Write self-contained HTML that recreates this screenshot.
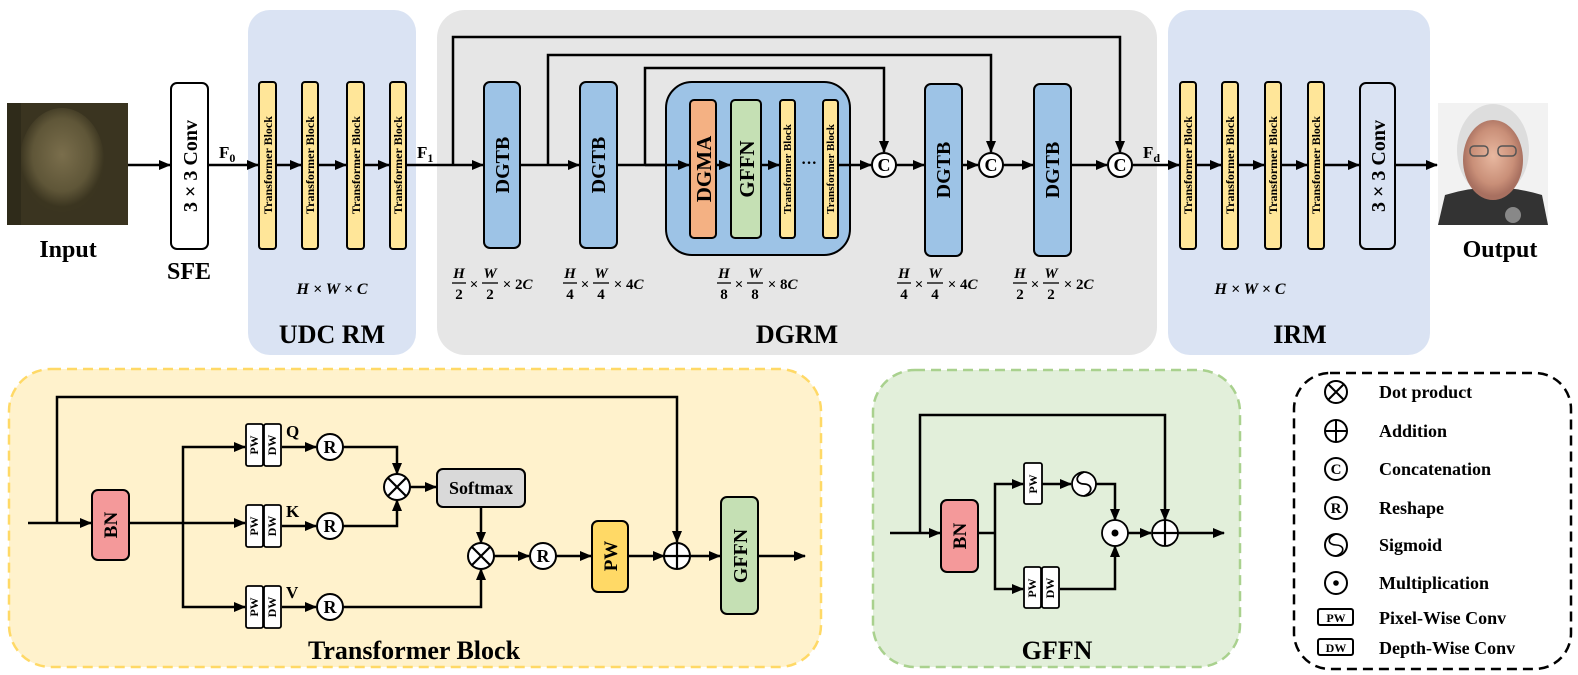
<!DOCTYPE html>
<html><head><meta charset="utf-8"><style>
html,body{margin:0;padding:0;background:#fff;}
svg{display:block;}
text{font-family:"Liberation Serif",serif;font-weight:bold;fill:#000;}
</style></head><body>
<svg width="1578" height="675" viewBox="0 0 1578 675" xmlns="http://www.w3.org/2000/svg">
<defs>
<marker id="a" markerUnits="userSpaceOnUse" markerWidth="12" markerHeight="10" refX="11" refY="5" orient="auto"><path d="M0,0 L12,5 L0,10 z" fill="#000"/></marker>
<radialGradient id="fin" cx="0.5" cy="0.45" r="0.5"><stop offset="0" stop-color="#7a6e4c"/><stop offset="0.7" stop-color="#5f5638"/><stop offset="1" stop-color="#3b3520"/></radialGradient>
<radialGradient id="fout" cx="0.5" cy="0.45" r="0.5"><stop offset="0" stop-color="#e8b8a0"/><stop offset="0.7" stop-color="#c98f78"/><stop offset="1" stop-color="#a87060"/></radialGradient>
</defs>

<rect x="248" y="10" width="168" height="345" rx="22" fill="#dae3f3"/>
<rect x="437" y="10" width="720" height="345" rx="28" fill="#e6e6e6"/>
<rect x="1168" y="10" width="262" height="345" rx="22" fill="#dae3f3"/>

<rect x="7" y="103" width="121" height="122" fill="#3a3420"/>
<ellipse cx="62" cy="160" rx="42" ry="52" fill="url(#fin)"/>
<rect x="7" y="103" width="14" height="122" fill="#2f2b1a"/>
<text x="68" y="257" font-size="24" text-anchor="middle">Input</text>

<rect x="1438" y="103" width="110" height="122" fill="#f2f2f2"/>
<path d="M1438,225 L1445,195 Q1493,180 1542,195 L1548,225 Z" fill="#333"/>
<ellipse cx="1493" cy="150" rx="36" ry="46" fill="#ddd"/>
<ellipse cx="1493" cy="160" rx="30" ry="40" fill="url(#fout)"/>
<rect x="1470" y="146" width="18" height="10" rx="4" fill="none" stroke="#555" stroke-width="1.5"/>
<rect x="1498" y="146" width="18" height="10" rx="4" fill="none" stroke="#555" stroke-width="1.5"/>
<circle cx="1513" cy="215" r="8" fill="#888"/>
<text x="1500" y="257" font-size="24" text-anchor="middle">Output</text>

<g stroke="#000" stroke-width="2.5" fill="none">
<line x1="128" y1="165" x2="170" y2="165" marker-end="url(#a)"/>
<line x1="208" y1="165" x2="258" y2="165" marker-end="url(#a)"/>
<line x1="276" y1="165" x2="301" y2="165" marker-end="url(#a)"/>
<line x1="318" y1="165" x2="346" y2="165" marker-end="url(#a)"/>
<line x1="364" y1="165" x2="389" y2="165" marker-end="url(#a)"/>
<line x1="406" y1="165" x2="483" y2="165" marker-end="url(#a)"/>
<polyline points="453,165 453,37 1120,37 1120,152" marker-end="url(#a)"/>
<line x1="520" y1="165" x2="579" y2="165" marker-end="url(#a)"/>
<polyline points="548,165 548,55 991,55 991,152" marker-end="url(#a)"/>
<line x1="617" y1="165" x2="665" y2="165"/>
<polyline points="645,165 645,68 884,68 884,152" marker-end="url(#a)"/>
</g>

<rect x="171" y="83" width="37" height="166" rx="6" fill="#fff" stroke="#000" stroke-width="2"/>
<text transform="translate(197,166) rotate(-90)" font-size="20" text-anchor="middle">3 × 3 Conv</text>
<text x="189" y="279" font-size="24" text-anchor="middle">SFE</text>
<text x="219" y="158" font-size="17">F<tspan font-size="12" dy="4">0</tspan></text>

<g fill="#ffe699" stroke="#000" stroke-width="2">
<rect x="259" y="82" width="17" height="167" rx="3"/><rect x="302" y="82" width="16" height="167" rx="3"/>
<rect x="347" y="82" width="17" height="167" rx="3"/><rect x="390" y="82" width="16" height="167" rx="3"/>
<rect x="1180" y="82" width="16" height="167" rx="3"/><rect x="1222" y="82" width="16" height="167" rx="3"/>
<rect x="1265" y="82" width="16" height="167" rx="3"/><rect x="1308" y="82" width="16" height="167" rx="3"/>
</g>
<g font-size="12" text-anchor="middle">
<text transform="translate(272,165) rotate(-90)">Transformer Block</text>
<text transform="translate(314,165) rotate(-90)">Transformer Block</text>
<text transform="translate(360,165) rotate(-90)">Transformer Block</text>
<text transform="translate(402,165) rotate(-90)">Transformer Block</text>
<text transform="translate(1192,165) rotate(-90)">Transformer Block</text>
<text transform="translate(1234,165) rotate(-90)">Transformer Block</text>
<text transform="translate(1277,165) rotate(-90)">Transformer Block</text>
<text transform="translate(1320,165) rotate(-90)">Transformer Block</text>
</g>
<text x="332" y="294" font-size="16" font-style="italic" text-anchor="middle">H × W × C</text>
<text x="1250" y="294" font-size="16" font-style="italic" text-anchor="middle">H × W × C</text>
<text x="332" y="343" font-size="26" text-anchor="middle">UDC RM</text>
<text x="1300" y="343" font-size="26" text-anchor="middle">IRM</text>
<text x="797" y="343" font-size="26" text-anchor="middle">DGRM</text>
<text x="417" y="158" font-size="17">F<tspan font-size="12" dy="4">1</tspan></text>
<text x="1143" y="158" font-size="17">F<tspan font-size="12" dy="4">d</tspan></text>

<g fill="#9dc3e6" stroke="#000" stroke-width="2">
<rect x="484" y="82" width="36" height="166" rx="6"/>
<rect x="580" y="82" width="37" height="166" rx="6"/>
<rect x="925" y="84" width="37" height="172" rx="6"/>
<rect x="1034" y="84" width="37" height="172" rx="6"/>
<rect x="666" y="82" width="184" height="173" rx="26"/>
</g>
<g font-size="20" text-anchor="middle">
<text transform="translate(509,165) rotate(-90)">DGTB</text>
<text transform="translate(605,165) rotate(-90)">DGTB</text>
<text transform="translate(950,170) rotate(-90)">DGTB</text>
<text transform="translate(1059,170) rotate(-90)">DGTB</text>
</g>
<rect x="690" y="100" width="26" height="138" rx="4" fill="#f4b183" stroke="#000" stroke-width="2"/>
<rect x="731" y="100" width="30" height="138" rx="4" fill="#c5e0b4" stroke="#000" stroke-width="2"/>
<rect x="780" y="100" width="15" height="138" rx="3" fill="#ffe699" stroke="#000" stroke-width="2"/>
<rect x="823" y="100" width="15" height="138" rx="3" fill="#ffe699" stroke="#000" stroke-width="2"/>
<text transform="translate(711,169) rotate(-90)" font-size="21" text-anchor="middle">DGMA</text>
<text transform="translate(754,169) rotate(-90)" font-size="21" text-anchor="middle">GFFN</text>
<text transform="translate(791,169) rotate(-90)" font-size="11" text-anchor="middle">Transformer Block</text>
<text transform="translate(834,169) rotate(-90)" font-size="11" text-anchor="middle">Transformer Block</text>
<text x="809" y="168" font-size="16" text-anchor="middle">···</text>

<g stroke="#000" stroke-width="2.5" fill="none">
<line x1="645" y1="165" x2="689" y2="165" marker-end="url(#a)"/>
<line x1="716" y1="165" x2="730" y2="165" marker-end="url(#a)"/>
<line x1="761" y1="165" x2="779" y2="165" marker-end="url(#a)"/>
<line x1="838" y1="165" x2="871" y2="165" marker-end="url(#a)"/>
<line x1="896" y1="165" x2="924" y2="165" marker-end="url(#a)"/>
<line x1="962" y1="165" x2="978" y2="165" marker-end="url(#a)"/>
<line x1="1003" y1="165" x2="1033" y2="165" marker-end="url(#a)"/>
<line x1="1071" y1="165" x2="1107" y2="165" marker-end="url(#a)"/>
<line x1="1132" y1="165" x2="1179" y2="165" marker-end="url(#a)"/>
<line x1="1196" y1="165" x2="1221" y2="165" marker-end="url(#a)"/>
<line x1="1238" y1="165" x2="1264" y2="165" marker-end="url(#a)"/>
<line x1="1281" y1="165" x2="1307" y2="165" marker-end="url(#a)"/>
<line x1="1324" y1="165" x2="1359" y2="165" marker-end="url(#a)"/>
<line x1="1395" y1="165" x2="1437" y2="165" marker-end="url(#a)"/>
</g>
<g fill="#fff" stroke="#000" stroke-width="2">
<circle cx="884" cy="165" r="12"/><circle cx="991" cy="165" r="12"/><circle cx="1120" cy="165" r="12"/>
</g>
<g font-size="18" text-anchor="middle">
<text x="884" y="171">C</text><text x="991" y="171">C</text><text x="1120" y="171">C</text>
</g>
<rect x="1360" y="83" width="35" height="166" rx="6" fill="#dae3f3" stroke="#000" stroke-width="2"/>
<text transform="translate(1385,166) rotate(-90)" font-size="20" text-anchor="middle">3 × 3 Conv</text>

<g font-size="15" text-anchor="middle" stroke="none">
<g transform="translate(452,0)">
<text x="7" y="278" font-style="italic">H</text><line x1="0" y1="283" x2="14" y2="283" stroke="#000" stroke-width="1.3"/><text x="7" y="299">2</text>
<text x="22" y="289" font-weight="normal">×</text>
<text x="38" y="278" font-style="italic">W</text><line x1="30" y1="283" x2="46" y2="283" stroke="#000" stroke-width="1.3"/><text x="38" y="299">2</text>
<text x="55" y="289" font-weight="normal">×</text><text x="63" y="289" text-anchor="start">2<tspan font-style="italic">C</tspan></text></g>
<g transform="translate(563,0)">
<text x="7" y="278" font-style="italic">H</text><line x1="0" y1="283" x2="14" y2="283" stroke="#000" stroke-width="1.3"/><text x="7" y="299">4</text>
<text x="22" y="289" font-weight="normal">×</text>
<text x="38" y="278" font-style="italic">W</text><line x1="30" y1="283" x2="46" y2="283" stroke="#000" stroke-width="1.3"/><text x="38" y="299">4</text>
<text x="55" y="289" font-weight="normal">×</text><text x="63" y="289" text-anchor="start">4<tspan font-style="italic">C</tspan></text></g>
<g transform="translate(717,0)">
<text x="7" y="278" font-style="italic">H</text><line x1="0" y1="283" x2="14" y2="283" stroke="#000" stroke-width="1.3"/><text x="7" y="299">8</text>
<text x="22" y="289" font-weight="normal">×</text>
<text x="38" y="278" font-style="italic">W</text><line x1="30" y1="283" x2="46" y2="283" stroke="#000" stroke-width="1.3"/><text x="38" y="299">8</text>
<text x="55" y="289" font-weight="normal">×</text><text x="63" y="289" text-anchor="start">8<tspan font-style="italic">C</tspan></text></g>
<g transform="translate(897,0)">
<text x="7" y="278" font-style="italic">H</text><line x1="0" y1="283" x2="14" y2="283" stroke="#000" stroke-width="1.3"/><text x="7" y="299">4</text>
<text x="22" y="289" font-weight="normal">×</text>
<text x="38" y="278" font-style="italic">W</text><line x1="30" y1="283" x2="46" y2="283" stroke="#000" stroke-width="1.3"/><text x="38" y="299">4</text>
<text x="55" y="289" font-weight="normal">×</text><text x="63" y="289" text-anchor="start">4<tspan font-style="italic">C</tspan></text></g>
<g transform="translate(1013,0)">
<text x="7" y="278" font-style="italic">H</text><line x1="0" y1="283" x2="14" y2="283" stroke="#000" stroke-width="1.3"/><text x="7" y="299">2</text>
<text x="22" y="289" font-weight="normal">×</text>
<text x="38" y="278" font-style="italic">W</text><line x1="30" y1="283" x2="46" y2="283" stroke="#000" stroke-width="1.3"/><text x="38" y="299">2</text>
<text x="55" y="289" font-weight="normal">×</text><text x="63" y="289" text-anchor="start">2<tspan font-style="italic">C</tspan></text></g>
</g>

<rect x="9" y="369" width="812" height="298" rx="42" fill="#fff2cc" stroke="#ffd966" stroke-width="2.5" stroke-dasharray="10,6"/>
<g stroke="#000" stroke-width="2.5" fill="none">
<line x1="28" y1="523" x2="91" y2="523" marker-end="url(#a)"/>
<polyline points="57,523 57,397 677,397 677,542" marker-end="url(#a)"/>
<line x1="129" y1="523" x2="245" y2="523" marker-end="url(#a)"/>
<polyline points="183,523 183,447 245,447" marker-end="url(#a)"/>
<polyline points="183,523 183,607 245,607" marker-end="url(#a)"/>
<line x1="282" y1="447" x2="316" y2="447" marker-end="url(#a)"/>
<line x1="282" y1="526" x2="316" y2="526" marker-end="url(#a)"/>
<line x1="282" y1="607" x2="316" y2="607" marker-end="url(#a)"/>
<polyline points="343,447 397,447 397,474" marker-end="url(#a)"/>
<polyline points="343,526 397,526 397,500" marker-end="url(#a)"/>
<line x1="410" y1="487" x2="436" y2="487" marker-end="url(#a)"/>
<line x1="481" y1="507" x2="481" y2="543" marker-end="url(#a)"/>
<polyline points="343,607 481,607 481,569" marker-end="url(#a)"/>
<line x1="494" y1="556" x2="529" y2="556" marker-end="url(#a)"/>
<line x1="556" y1="556" x2="591" y2="556" marker-end="url(#a)"/>
<line x1="628" y1="556" x2="664" y2="556" marker-end="url(#a)"/>
<line x1="690" y1="556" x2="720" y2="556" marker-end="url(#a)"/>
<line x1="758" y1="556" x2="805" y2="556" marker-end="url(#a)"/>
</g>
<rect x="92" y="490" width="37" height="70" rx="6" fill="#f4999a" stroke="#000" stroke-width="2"/>
<text transform="translate(117,525) rotate(-90)" font-size="19" text-anchor="middle">BN</text>
<g fill="#fff" stroke="#000" stroke-width="1.8">
<rect x="246" y="424" width="17" height="42" rx="2"/><rect x="264" y="424" width="17" height="42" rx="2"/>
<rect x="246" y="505" width="17" height="42" rx="2"/><rect x="264" y="505" width="17" height="42" rx="2"/>
<rect x="246" y="586" width="17" height="42" rx="2"/><rect x="264" y="586" width="17" height="42" rx="2"/>
</g>
<g font-size="12" text-anchor="middle">
<text transform="translate(258,445) rotate(-90)">PW</text><text transform="translate(276,445) rotate(-90)">DW</text>
<text transform="translate(258,526) rotate(-90)">PW</text><text transform="translate(276,526) rotate(-90)">DW</text>
<text transform="translate(258,607) rotate(-90)">PW</text><text transform="translate(276,607) rotate(-90)">DW</text>
</g>
<g font-size="17"><text x="286" y="437">Q</text><text x="286" y="517">K</text><text x="286" y="598">V</text></g>
<g fill="#fff" stroke="#000" stroke-width="2">
<circle cx="330" cy="447" r="13"/><circle cx="330" cy="526" r="13"/><circle cx="330" cy="607" r="13"/>
<circle cx="543" cy="556" r="13"/>
<circle cx="397" cy="487" r="13"/><circle cx="481" cy="556" r="13"/><circle cx="677" cy="556" r="13"/>
</g>
<g stroke="#000" stroke-width="2.2">
<line x1="388" y1="478" x2="406" y2="496"/><line x1="406" y1="478" x2="388" y2="496"/>
<line x1="472" y1="547" x2="490" y2="565"/><line x1="490" y1="547" x2="472" y2="565"/>
<line x1="664" y1="556" x2="690" y2="556"/><line x1="677" y1="543" x2="677" y2="569"/>
</g>
<g font-size="18" text-anchor="middle">
<text x="330" y="453">R</text><text x="330" y="532">R</text><text x="330" y="613">R</text><text x="543" y="562">R</text>
</g>
<rect x="437" y="469" width="88" height="38" rx="6" fill="#d9d9d9" stroke="#000" stroke-width="2"/>
<text x="481" y="494" font-size="18" text-anchor="middle">Softmax</text>
<rect x="592" y="521" width="36" height="71" rx="6" fill="#ffd966" stroke="#000" stroke-width="2"/>
<text transform="translate(617,556) rotate(-90)" font-size="19" text-anchor="middle">PW</text>
<rect x="721" y="497" width="37" height="117" rx="6" fill="#c5e0b4" stroke="#000" stroke-width="2"/>
<text transform="translate(747,556) rotate(-90)" font-size="20" text-anchor="middle">GFFN</text>
<text x="414" y="659" font-size="26" text-anchor="middle">Transformer Block</text>

<rect x="873" y="370" width="367" height="297" rx="42" fill="#e2efda" stroke="#a9d18e" stroke-width="2.5" stroke-dasharray="10,6"/>
<g stroke="#000" stroke-width="2.5" fill="none">
<line x1="890" y1="533" x2="940" y2="533" marker-end="url(#a)"/>
<polyline points="920,533 920,415 1165,415 1165,520" marker-end="url(#a)"/>
<line x1="978" y1="533" x2="995" y2="533"/>
<polyline points="995,533 995,484 1023,484" marker-end="url(#a)"/>
<polyline points="995,533 995,589 1023,589" marker-end="url(#a)"/>
<line x1="1042" y1="484" x2="1071" y2="484" marker-end="url(#a)"/>
<polyline points="1096,484 1115,484 1115,520" marker-end="url(#a)"/>
<polyline points="1060,589 1115,589 1115,546" marker-end="url(#a)"/>
<line x1="1128" y1="533" x2="1151" y2="533" marker-end="url(#a)"/>
<line x1="1178" y1="533" x2="1224" y2="533" marker-end="url(#a)"/>
</g>
<rect x="941" y="500" width="37" height="72" rx="6" fill="#f4999a" stroke="#000" stroke-width="2"/>
<text transform="translate(966,536) rotate(-90)" font-size="19" text-anchor="middle">BN</text>
<g fill="#fff" stroke="#000" stroke-width="1.8">
<rect x="1024" y="463" width="18" height="41" rx="2"/>
<rect x="1024" y="567" width="17" height="41" rx="2"/><rect x="1042" y="567" width="17" height="41" rx="2"/>
<circle cx="1084" cy="484" r="12"/><circle cx="1115" cy="533" r="13"/><circle cx="1165" cy="533" r="13"/>
</g>
<g font-size="12" text-anchor="middle">
<text transform="translate(1037,484) rotate(-90)">PW</text>
<text transform="translate(1036,588) rotate(-90)">PW</text><text transform="translate(1054,588) rotate(-90)">DW</text>
</g>
<path d="M1084,472 C1074,476 1076,484 1084,484 C1092,484 1094,492 1084,496" fill="none" stroke="#000" stroke-width="1.8"/>
<circle cx="1115" cy="533" r="3.5" fill="#000"/>
<g stroke="#000" stroke-width="2.2"><line x1="1152" y1="533" x2="1178" y2="533"/><line x1="1165" y1="520" x2="1165" y2="546"/></g>
<text x="1057" y="659" font-size="26" text-anchor="middle">GFFN</text>

<rect x="1294" y="373" width="277" height="296" rx="36" fill="#fff" stroke="#000" stroke-width="2.5" stroke-dasharray="10,6"/>
<g fill="#fff" stroke="#000" stroke-width="2">
<circle cx="1336" cy="392" r="11"/><circle cx="1336" cy="431" r="11"/><circle cx="1336" cy="469" r="11"/>
<circle cx="1336" cy="508" r="11"/><circle cx="1336" cy="545" r="11"/><circle cx="1336" cy="583" r="11"/>
<rect x="1318" y="609" width="35" height="16" rx="2"/><rect x="1318" y="639" width="35" height="16" rx="2"/>
</g>
<g stroke="#000" stroke-width="2">
<line x1="1328" y1="384" x2="1344" y2="400"/><line x1="1344" y1="384" x2="1328" y2="400"/>
<line x1="1325" y1="431" x2="1347" y2="431"/><line x1="1336" y1="420" x2="1336" y2="442"/>
</g>
<path d="M1336,534 C1326,538 1328,545 1336,545 C1344,545 1346,552 1336,556" fill="none" stroke="#000" stroke-width="1.6"/>
<circle cx="1336" cy="583" r="2.8" fill="#000"/>
<g font-size="15" text-anchor="middle"><text x="1336" y="474">C</text><text x="1336" y="513">R</text></g>
<g font-size="12" text-anchor="middle"><text x="1336" y="622" font-weight="normal">PW</text><text x="1336" y="652" font-weight="normal">DW</text></g>
<g font-size="18">
<text x="1379" y="398">Dot product</text>
<text x="1379" y="437">Addition</text>
<text x="1379" y="475">Concatenation</text>
<text x="1379" y="514">Reshape</text>
<text x="1379" y="551">Sigmoid</text>
<text x="1379" y="589">Multiplication</text>
<text x="1379" y="624">Pixel-Wise Conv</text>
<text x="1379" y="654">Depth-Wise Conv</text>
</g>
</svg>
</body></html>
